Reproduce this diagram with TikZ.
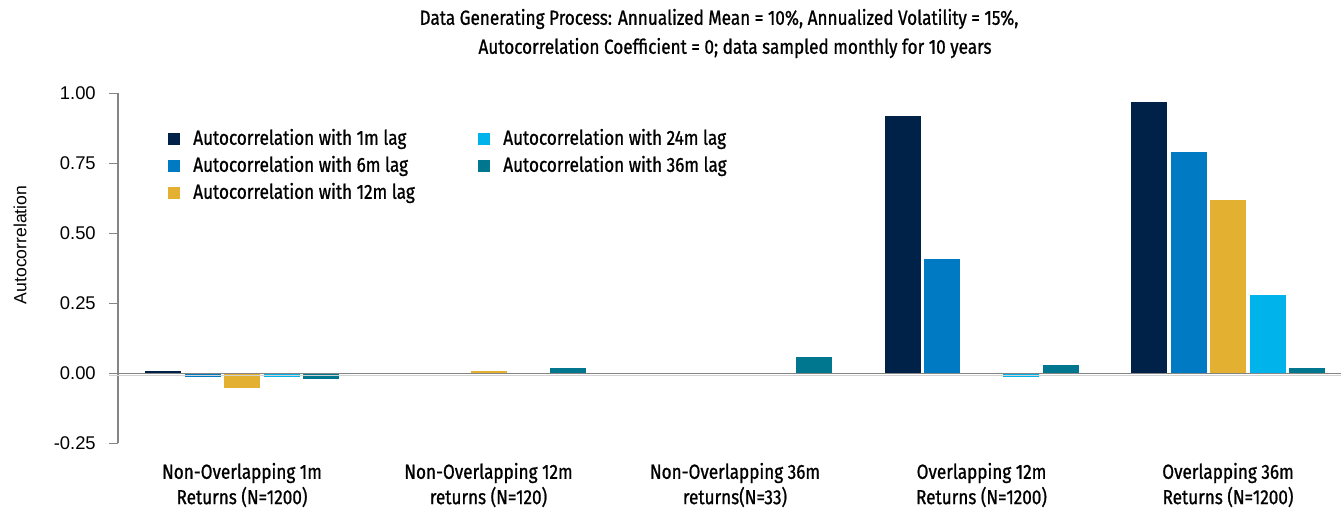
\documentclass[tikz,border=0pt]{standalone}
\usepackage{fontspec}
\setmainfont{Fira Sans}
\newfontfamily\chartfont{Fira Sans}[FakeStretch=0.84, FakeBold=0.9]
\newfontfamily\axisfont{Liberation Sans}
\definecolor{bar0}{HTML}{002248}
\definecolor{bar1}{HTML}{007AC2}
\definecolor{bar2}{HTML}{E3B032}
\definecolor{bar3}{HTML}{00B3EA}
\definecolor{bar4}{HTML}{00778F}
\definecolor{axisgray}{HTML}{858585}
\newcommand\chartsize{\chartfont\fontsize{15.3}{17}\selectfont}
\tikzset{
  axisline/.style={axisgray, line width=1.2pt},
  ticklabel/.style={anchor=east, inner sep=0pt, font=\axisfont\fontsize{13.8}{16}\selectfont},
  legtext/.style={anchor=west, inner sep=0pt, font=\chartsize},
  cattext/.style={anchor=center, inner sep=0pt, align=center, font=\chartsize},
  titletext/.style={anchor=center, inner sep=0pt, font=\chartsize},
}
\begin{document}
\begin{tikzpicture}[x=0.75pt,y=-0.75pt]
\useasboundingbox (0,0) rectangle (1341,511);

% title
\node[titletext] (t1) at (719,19) {Data Generating Process: Annualized Mean = 10\%, Annualized Volatility = 15\%,};
\node[titletext] (t2) at (735,48) {Autocorrelation Coefficient = 0; data sampled monthly for 10 years};

% y axis
\draw[axisline] (118,93.3) -- (118,443.3);
\foreach \v/\lab [count=\k] in {1/1.00,0.75/0.75,0.5/0.50,0.25/0.25,0/0.00,-0.25/-0.25}{
  \draw[axisline] (109,{373.3-280*\v}) -- (118,{373.3-280*\v});
  \node[ticklabel] (tick\k) at (96,{373.3-280*\v}) {\lab};
}
\node[rotate=90, inner sep=0pt, font=\axisfont\fontsize{13.2}{16}\selectfont] (ylab) at (20,245) {Autocorrelation};

% bars: group / series / value
\foreach \g/\i/\v in {
  0/0/0.008, 0/1/-0.013, 0/2/-0.053, 0/3/-0.012, 0/4/-0.02,
  1/2/0.008, 1/4/0.02,
  2/4/0.058,
  3/0/0.919, 3/1/0.408, 3/3/-0.012, 3/4/0.03,
  4/0/0.969, 4/1/0.79, 4/2/0.619, 4/3/0.28, 4/4/0.019}{
  \fill[bar\i] ({145+246.5*\g+39.5*\i},373.3) rectangle ({181+246.5*\g+39.5*\i},{373.3-280*\v});
}

% zero line
\draw[gray!35, line width=1pt] (109,375.3) -- (1341,375.3);
\draw[axisline] (109,373.3) -- (1341,373.3);

% legend
\foreach \i/\x/\y/\txt in {0/168/139/1m, 1/168/166/6m, 2/168/193/12m, 3/478/139/24m, 4/478/166/36m}{
  \fill[bar\i] (\x,\y-6) rectangle (\x+12,\y+6);
  \node[legtext] (leg\i) at (\x+25,\y) {Autocorrelation with \txt\ lag};
}

% category labels
\foreach \g/\la/\lb in {
  0/Non-Overlapping 1m/Returns (N=1200),
  1/Non-Overlapping 12m/returns (N=120),
  2/Non-Overlapping 36m/returns(N=33),
  3/Overlapping 12m/Returns (N=1200),
  4/Overlapping 36m/Returns (N=1200)}{
  \node[cattext] (cata\g) at ({242+246.5*\g},473) {\la};
  \node[cattext] (catb\g) at ({242+246.5*\g},497) {\lb};
}
\end{tikzpicture}
\end{document}
